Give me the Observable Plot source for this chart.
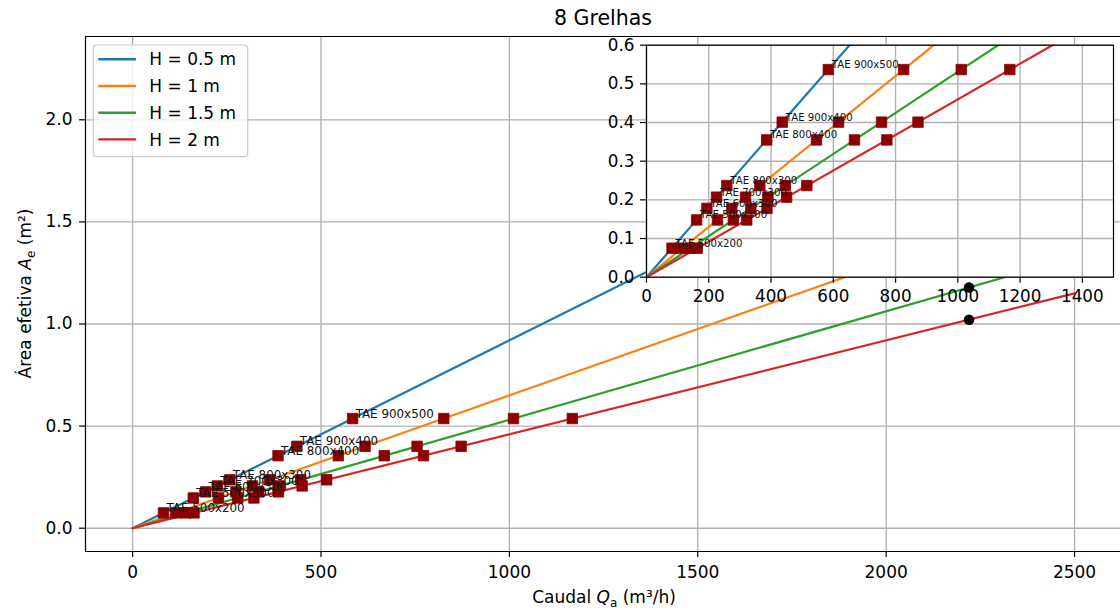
<!DOCTYPE html>
<html>
<head>
<meta charset="utf-8">
<script src="https://cdn.jsdelivr.net/npm/d3@7"></script>
<script src="https://cdn.jsdelivr.net/npm/@observablehq/plot@0.6"></script>
<style>
  html, body { margin: 0; padding: 0; background: white; overflow: hidden; }
  #wrap { position: relative; width: 1120px; height: 610px; overflow: hidden; }
  #wrap svg { position: absolute; left: 0; top: 0; }
</style>
</head>
<body>
<div id="wrap"></div>
<script>
// ---------- data ----------
const grates = ["500x200", "500x300", "600x300", "700x300", "800x300", "800x400", "900x400", "900x500"];
const areaAe = [0.075, 0.148, 0.178, 0.207, 0.237, 0.355, 0.401, 0.537];
const seriesNames = ["H = 0.5 m", "H = 1 m", "H = 1.5 m", "H = 2 m"];
const seriesColors = ["#1f77b4", "#ff7f0e", "#2ca02c", "#d62728"];
const qH05 = [82, 161, 194, 225, 258, 386, 436, 584];
const qH1 = [115, 228, 274, 318, 364, 546, 617, 826];
const qH15 = [141, 279, 335, 390, 446, 668, 755, 1011];
const qH2 = [163, 322, 387, 450, 515, 772, 872, 1167];
const lineQ = [0, 2500];
const lineAeH05 = [0, 2.300];
const lineAeH1 = [0, 1.626];
const lineAeH15 = [0, 1.328];
const lineAeH2 = [0, 1.150];
const designQ = [2220, 2220];
const designAe = [1.179, 1.021];
const xTicksMain = [0, 500, 1000, 1500, 2000, 2500];
const yTicksMain = [0, 0.5, 1.0, 1.5, 2.0];
const xTicksInset = [0, 200, 400, 600, 800, 1000, 1200, 1400];
const yTicksInset = [0, 0.1, 0.2, 0.3, 0.4, 0.5, 0.6];
const titleText = "8 Grelhas";

// ---------- tables built from the arrays ----------
const qSeries = [qH05, qH1, qH15, qH2];
const lineAeSeries = [lineAeH05, lineAeH1, lineAeH15, lineAeH2];
const lineRows = seriesNames.flatMap((h, i) => lineQ.map((q, j) => ({h, q, ae: lineAeSeries[i][j]})));
const pointRows = seriesNames.flatMap((h, i) => qSeries[i].map((q, j) => ({h, q, ae: areaAe[j]})));
const labelRows = grates.map((g, j) => ({q: qH05[j], ae: areaAe[j], label: "TAE " + g}));
const designRows = designQ.map((q, i) => ({q, ae: designAe[i]}));

const FONT = "DejaVu Sans";
const gridStyle = {stroke: "#b0b0b0", strokeOpacity: 1, strokeWidth: 1.35};
const colorScale = {domain: seriesNames, range: seriesColors};

// ---------- main chart ----------
const xDomain = [-125, 2622];
const yDomain = [-0.1141, 2.408];
const main = Plot.plot({
  width: 1120, height: 610,
  marginLeft: 85, marginRight: 0, marginTop: 36, marginBottom: 59,
  style: {fontFamily: FONT, fontSize: "17px", background: "white", color: "black", overflow: "visible"},
  x: {domain: xDomain, label: null},
  y: {domain: yDomain, label: null},
  color: colorScale,
  marks: [
    Plot.gridX(xTicksMain, gridStyle),
    Plot.gridY(yTicksMain, gridStyle),
    Plot.line(lineRows, {x: "q", y: "ae", z: "h", stroke: "h", strokeWidth: 2.2}),
    Plot.dot(pointRows, {x: "q", y: "ae", symbol: "square", r: 5.9, fill: "#8b0000", stroke: "#8b0000", strokeWidth: 0.8}),
    Plot.text(labelRows, {x: "q", y: "ae", text: "label", textAnchor: "start", lineAnchor: "bottom", dx: 3, dy: -1, fontSize: 11.9, fill: "#111"}),
    Plot.dot(designRows, {x: "q", y: "ae", r: 5.3, fill: "black"}),
    Plot.ruleY([yDomain[0], yDomain[1]], {stroke: "black", strokeWidth: 1.2}),
    Plot.ruleX([xDomain[0]], {stroke: "black", strokeWidth: 1.2}),
    Plot.axisX({ticks: xTicksMain, tickFormat: "d", tickSize: 6, tickPadding: 8, fontSize: 17, strokeWidth: 1.2, label: null}),
    Plot.axisY({ticks: yTicksMain, tickFormat: ".1f", tickSize: 6, tickPadding: 7, fontSize: 17, strokeWidth: 1.2, label: null})
  ]
});

// ---------- inset chart ----------
const inset = Plot.plot({
  width: 1120, height: 310,
  marginLeft: 646, marginRight: 7, marginTop: 44.7, marginBottom: 33.3,
  style: {fontFamily: FONT, fontSize: "17px", background: "transparent", color: "black", overflow: "visible", pointerEvents: "none"},
  x: {domain: [0, 1500], label: null},
  y: {domain: [0, 0.6], label: null},
  color: colorScale,
  marks: [
    Plot.frame({fill: "white", stroke: null}),
    Plot.gridX(xTicksInset, gridStyle),
    Plot.gridY(yTicksInset, gridStyle),
    Plot.line(lineRows, {x: "q", y: "ae", z: "h", stroke: "h", strokeWidth: 2.2, clip: true}),
    Plot.dot(pointRows, {x: "q", y: "ae", symbol: "square", r: 5.9, fill: "#8b0000", stroke: "#8b0000", strokeWidth: 0.8}),
    Plot.text(labelRows, {x: "q", y: "ae", text: "label", textAnchor: "start", lineAnchor: "bottom", dx: 3.5, dy: -1.5, fontSize: 10.2, fill: "#111"}),
    Plot.frame({stroke: "black", strokeWidth: 1.2}),
    Plot.axisX({ticks: xTicksInset, tickFormat: "d", tickSize: 6, tickPadding: 7, fontSize: 16.8, strokeWidth: 1.2, label: null}),
    Plot.axisY({ticks: yTicksInset, tickFormat: ".1f", tickSize: 6, tickPadding: 6, fontSize: 16.8, strokeWidth: 1.2, label: null})
  ]
});

// ---------- titles, axis labels, legend ----------
const svg = d3.select(main);
svg.append("text")
  .attr("x", 603).attr("y", 25).attr("text-anchor", "middle")
  .attr("font-size", 20.5).attr("fill", "black").text(titleText);

const xl = svg.append("text")
  .attr("x", 604).attr("y", 603).attr("text-anchor", "middle")
  .attr("font-size", 17).attr("fill", "black");
xl.append("tspan").text("Caudal ");
xl.append("tspan").attr("font-style", "italic").text("Q");
xl.append("tspan").attr("font-size", 12).attr("dy", 3.5).text("a");
xl.append("tspan").attr("dy", -3.5).text(" (m³/h)");

const yl = svg.append("text")
  .attr("transform", "translate(31,293.5) rotate(-90)").attr("text-anchor", "middle")
  .attr("font-size", 17).attr("fill", "black");
yl.append("tspan").text("Área efetiva ");
yl.append("tspan").attr("font-style", "italic").text("A");
yl.append("tspan").attr("font-size", 12).attr("dy", 3.5).text("e");
yl.append("tspan").attr("dy", -3.5).text(" (m²)");

const leg = svg.append("g").attr("text-anchor", "start");
leg.append("rect")
  .attr("x", 93.3).attr("y", 45).attr("width", 154.4).attr("height", 111.7)
  .attr("rx", 3.5).attr("fill", "white").attr("fill-opacity", 0.8)
  .attr("stroke", "#cccccc").attr("stroke-width", 1.2);
seriesNames.forEach((name, i) => {
  const y = 59.3 + i * 26.7;
  leg.append("line").attr("x1", 98.3).attr("x2", 136).attr("y1", y).attr("y2", y)
    .attr("stroke", seriesColors[i]).attr("stroke-width", 2.4);
  leg.append("text").attr("x", 149.3).attr("y", y).attr("dy", "0.36em")
    .attr("text-anchor", "start")
    .attr("font-size", 17).attr("fill", "black").text(name);
});

const wrap = document.getElementById("wrap");
wrap.appendChild(main);
wrap.appendChild(inset);
</script>
</body>
</html>
